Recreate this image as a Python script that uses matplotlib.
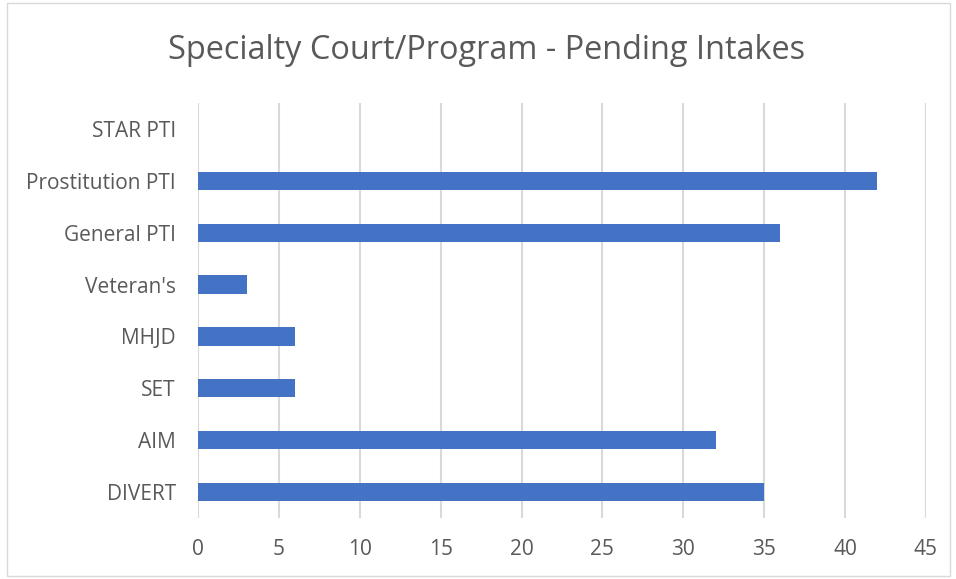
import matplotlib.pyplot as plt
import numpy as np

programs = ['DIVERT', 'AIM', 'SET', 'MHJD', "Veteran's", 'General PTI', 'Prostitution PTI', 'STAR PTI']
pending = [35, 32, 6, 6, 3, 36, 42, 0]
x_ticks = np.arange(0, 50, 5)

plt.rcParams['font.family'] = ['Open Sans', 'DejaVu Sans']
text_color = '#595959'

fig = plt.figure(figsize=(9.56, 5.79), dpi=100)
ax = fig.add_axes([0.2071, 0.1054, 0.7615, 0.7167])

y = np.arange(len(programs))
ax.barh(y, pending, height=0.35, color='#4472C4', zorder=3)

ax.set_xlim(0, 45)
ax.set_ylim(-0.5, len(programs) - 0.5)
ax.set_xticks(x_ticks)
ax.set_yticks(y)
ax.set_yticklabels(programs)
ax.tick_params(axis='both', length=0, labelsize=15, colors=text_color)
ax.tick_params(axis='x', pad=15)
ax.tick_params(axis='y', pad=16)
ax.grid(axis='x', color='#D9D9D9', linewidth=1.5, zorder=0)
for s in ax.spines.values():
    s.set_visible(False)

fig.text(0.509, 0.913, 'Specialty Court/Program - Pending Intakes', ha='center', va='center',
         fontsize=23.4, color=text_color)

# light chart border
fig.patches.append(plt.Rectangle((0.007, 0.005), 0.987, 0.99, transform=fig.transFigure,
                                 fill=False, edgecolor='#D9D9D9', linewidth=1))

fig.savefig('out.png', dpi=100)
plt.close(fig)
